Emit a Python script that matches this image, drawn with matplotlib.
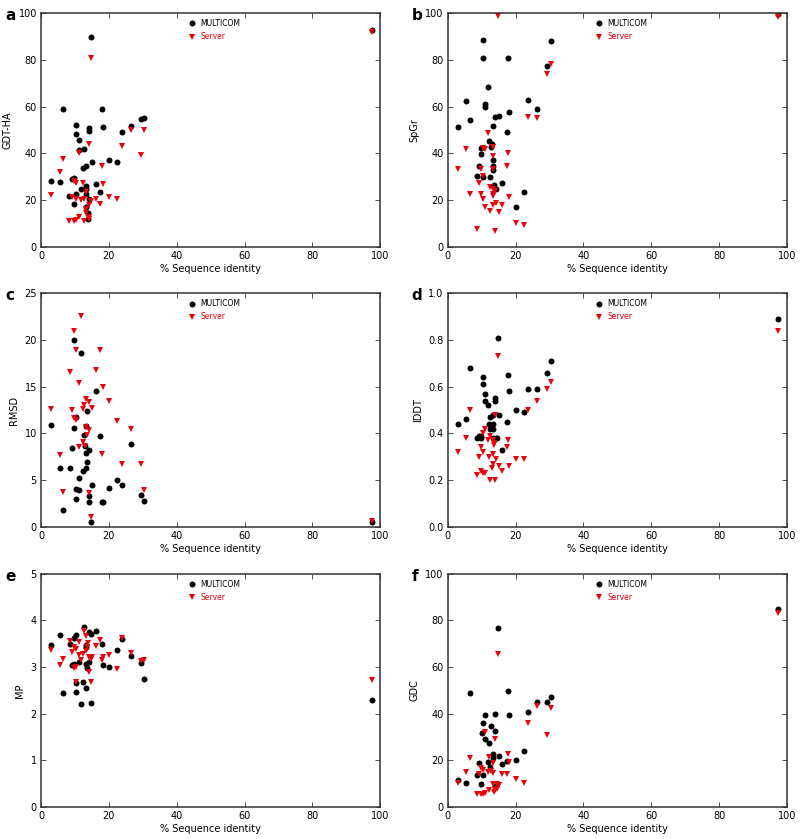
import matplotlib
matplotlib.use('Agg')
import matplotlib.pyplot as plt

# panel a - GDT-HA
a_multi_x = [97.5, 14.7, 6.6, 17.9, 10.3, 14.0, 14.0, 18.2, 10.3, 11.1, 26.5, 23.9, 29.4, 30.4,
             11.1, 12.8, 12.3, 13.3, 15.0, 19.9, 22.3, 3.0, 5.6, 9.0, 9.7, 13.2, 16.1, 17.3,
             11.8, 13.2, 8.3, 10.4, 9.7, 13.2, 14.0, 13.3, 13.7, 13.7]
a_multi_y = [92.9, 89.7, 58.9, 58.9, 52.0, 50.9, 49.6, 51.3, 48.1, 45.7, 51.7, 49.3, 54.7, 55.0,
             41.3, 41.9, 33.9, 34.6, 36.1, 37.1, 36.1, 28.3, 27.7, 29.0, 29.3, 26.0, 27.0, 23.6,
             24.9, 24.7, 21.7, 22.4, 18.3, 22.6, 20.4, 17.1, 14.3, 12.0]
a_serv_x = [97.5, 14.7, 26.5, 30.4, 14.0, 23.9, 11.1, 29.4, 6.6, 17.9, 5.6, 9.7, 10.4, 12.3,
            18.2, 13.2, 3.0, 9.0, 10.4, 11.8, 12.8, 14.7, 16.1, 19.9, 22.3, 17.3, 14.0, 13.3,
            13.3, 14.0, 11.1, 8.3, 9.7, 10.4, 12.8, 14.0]
a_serv_y = [92.0, 81.1, 50.0, 50.0, 43.9, 43.3, 40.0, 39.1, 37.6, 34.6, 32.1, 28.1, 27.1, 27.3,
            26.7, 23.3, 22.1, 21.3, 20.4, 19.9, 20.3, 19.7, 20.3, 21.3, 20.4, 18.1, 18.0, 16.0,
            14.3, 12.6, 12.7, 11.1, 11.1, 11.4, 10.9, 11.9]

# panel b - SpGr
b_multi_x = [97.5, 10.3, 30.4, 10.5, 17.8, 29.4, 11.8, 5.5, 23.8, 11.1, 11.1, 26.4, 18.2, 6.5,
             14.0, 15.0, 2.9, 13.2, 17.4, 12.2, 13.0, 12.8, 9.7, 9.7, 13.3, 9.1, 13.2, 13.3,
             8.5, 10.3, 12.4, 16.1, 13.5, 14.1, 22.4, 20.0]
b_multi_y = [99.7, 88.7, 88.3, 81.0, 81.0, 77.6, 68.4, 62.6, 63.0, 61.3, 60.0, 58.9, 57.9, 54.1,
             55.4, 56.0, 51.3, 51.7, 49.0, 45.1, 44.0, 42.9, 42.4, 39.6, 37.1, 34.7, 34.6, 32.7,
             30.3, 30.0, 30.0, 27.1, 26.3, 24.6, 23.6, 17.1]
b_serv_x = [97.5, 14.7, 30.3, 29.4, 23.8, 26.4, 11.8, 17.8, 5.5, 10.3, 11.1, 13.2, 13.2, 2.9,
            9.7, 13.3, 17.4, 10.3, 9.1, 12.4, 13.2, 13.8, 13.3, 6.5, 9.7, 13.2, 18.0, 10.4,
            14.1, 13.2, 16.1, 11.1, 12.4, 15.0, 20.0, 22.4, 8.5, 14.0]
b_serv_y = [98.6, 99.1, 78.3, 74.0, 55.4, 55.3, 48.9, 40.3, 42.0, 42.3, 42.0, 42.9, 38.9, 33.1,
            33.3, 33.1, 34.4, 30.3, 27.4, 25.7, 24.6, 23.7, 22.6, 22.6, 22.6, 21.6, 21.1, 20.3,
            18.9, 18.0, 18.0, 17.1, 15.4, 14.9, 10.0, 9.3, 7.7, 6.9]

# panel c - RMSD
c_multi_x = [97.5, 9.7, 11.8, 16.1, 13.5, 10.4, 3.0, 9.7, 13.2, 12.8, 17.3, 26.5, 9.0, 13.1,
             14.2, 13.2, 13.5, 5.6, 8.4, 12.3, 13.2, 11.1, 22.3, 23.9, 14.9, 19.9, 10.4, 11.1,
             10.3, 14.0, 29.4, 14.0, 17.9, 18.2, 30.4, 6.6, 14.7]
c_multi_y = [0.46, 20.0, 18.6, 14.6, 12.4, 11.8, 10.9, 10.6, 10.8, 9.8, 9.7, 8.9, 8.4, 8.6,
             8.25, 7.9, 6.9, 6.3, 6.3, 6.0, 6.25, 5.25, 5.0, 4.5, 4.5, 4.1, 4.0, 3.9,
             3.0, 3.3, 3.4, 2.7, 2.6, 2.7, 2.75, 1.8, 0.5]
c_serv_x = [97.5, 11.8, 9.7, 10.4, 17.3, 8.4, 16.1, 11.1, 18.2, 13.2, 14.0, 19.9, 12.8, 12.3,
            14.9, 3.0, 9.0, 9.7, 10.4, 22.3, 26.5, 13.2, 14.2, 13.5, 12.5, 13.0, 11.1, 5.6,
            17.9, 23.9, 29.4, 6.6, 14.0, 30.4, 14.7]
c_serv_y = [0.64, 22.6, 21.0, 18.9, 18.9, 16.6, 16.8, 15.4, 15.0, 13.7, 13.4, 13.5, 13.0, 12.6,
            12.75, 12.6, 12.5, 11.6, 11.4, 11.3, 10.5, 10.7, 10.4, 9.8, 9.1, 8.7, 8.5, 7.7,
            7.8, 6.7, 6.7, 3.7, 3.6, 3.9, 1.0]

# panel d - lDDT
d_multi_x = [97.5, 14.7, 6.5, 30.4, 29.4, 10.3, 17.8, 10.4, 23.8, 26.4, 18.2, 11.1, 14.0, 14.0,
             11.1, 11.8, 20.0, 22.4, 15.0, 13.3, 12.5, 17.4, 2.9, 5.5, 12.3, 13.3, 12.5, 13.3,
             9.1, 9.7, 8.5, 9.7, 13.2, 14.1, 14.5, 16.1]
d_multi_y = [0.89, 0.81, 0.68, 0.71, 0.66, 0.64, 0.65, 0.61, 0.59, 0.59, 0.58, 0.57, 0.55, 0.54,
             0.54, 0.52, 0.50, 0.49, 0.48, 0.48, 0.47, 0.45, 0.44, 0.46, 0.44, 0.44, 0.42, 0.42,
             0.39, 0.39, 0.38, 0.38, 0.38, 0.38, 0.38, 0.33]
d_serv_x = [97.5, 14.7, 30.4, 29.4, 26.4, 23.8, 6.5, 14.0, 11.1, 10.3, 12.5, 5.5, 11.8, 17.8,
            13.2, 13.5, 13.5, 9.7, 17.4, 2.9, 10.3, 13.2, 12.3, 9.1, 20.0, 22.4, 14.1, 13.2,
            18.2, 15.0, 12.9, 16.1, 9.7, 10.4, 11.1, 8.5, 12.5, 14.0]
d_serv_y = [0.84, 0.73, 0.62, 0.59, 0.54, 0.50, 0.50, 0.48, 0.42, 0.40, 0.39, 0.38, 0.37, 0.37,
            0.37, 0.36, 0.35, 0.34, 0.34, 0.32, 0.32, 0.31, 0.30, 0.30, 0.29, 0.29, 0.29, 0.27,
            0.26, 0.26, 0.25, 0.24, 0.24, 0.23, 0.23, 0.22, 0.20, 0.20]

# panel e - MP
e_multi_x = [97.5, 3.0, 5.6, 6.6, 8.4, 9.0, 9.7, 10.4, 9.7, 10.4, 10.4, 11.1, 11.8, 12.3,
             12.8, 13.2, 13.2, 13.5, 13.2, 14.0, 14.7, 14.2, 14.7, 16.1, 17.9, 18.2, 19.9,
             22.3, 23.9, 26.5, 29.4, 30.4, 13.2]
e_multi_y = [2.29, 3.48, 3.68, 2.45, 3.50, 3.04, 3.63, 3.69, 3.06, 2.66, 2.46, 3.11, 2.21, 2.68,
             3.85, 3.48, 3.07, 2.99, 2.55, 3.76, 3.70, 3.10, 2.23, 3.78, 3.50, 3.05, 3.00,
             3.37, 3.61, 3.24, 3.09, 2.75, 3.44]
e_serv_x = [97.5, 3.0, 5.6, 6.6, 8.4, 9.0, 9.7, 10.4, 9.7, 10.4, 10.4, 11.1, 11.1, 11.8,
            12.5, 12.7, 13.2, 13.5, 13.2, 13.7, 14.0, 14.0, 14.7, 14.9, 14.7, 16.1, 17.3,
            17.9, 18.2, 19.9, 22.3, 23.9, 26.5, 29.4, 30.4]
e_serv_y = [2.73, 3.36, 3.05, 3.17, 3.56, 3.32, 3.43, 3.39, 2.97, 3.00, 2.68, 3.54, 3.25, 3.16,
            3.27, 3.77, 3.66, 3.44, 3.34, 3.51, 3.22, 2.89, 3.18, 3.21, 2.68, 3.46, 3.59,
            3.16, 3.21, 3.25, 2.96, 3.62, 3.30, 3.14, 3.16]

# panel f - GDC
f_multi_x = [97.5, 14.7, 6.5, 17.8, 30.4, 26.4, 29.4, 23.8, 11.1, 14.0, 18.2, 10.3, 12.8, 14.0,
             10.1, 11.1, 12.2, 22.4, 13.2, 15.0, 13.2, 11.8, 9.1, 20.0, 17.4, 16.1, 12.4,
             8.5, 10.4, 2.9, 5.5, 9.7, 14.0]
f_multi_y = [85.0, 76.7, 49.1, 49.7, 47.3, 45.1, 45.0, 40.9, 39.6, 40.1, 39.6, 36.0, 34.7, 32.6,
             31.9, 29.0, 27.3, 24.1, 22.6, 22.0, 21.1, 19.3, 18.7, 20.0, 19.7, 18.3, 17.1,
             13.6, 13.6, 11.7, 10.3, 9.9, 9.1]
f_serv_x = [97.5, 14.7, 30.4, 26.4, 23.8, 29.4, 11.1, 14.0, 6.5, 17.8, 12.2, 18.2, 13.2, 5.5,
            9.7, 10.4, 11.8, 12.8, 13.2, 16.1, 17.4, 9.1, 2.9, 20.0, 22.4, 13.3, 14.5, 15.0,
            12.3, 13.5, 14.0, 8.5, 9.7, 10.4, 11.1, 14.5]
f_serv_y = [83.1, 65.7, 42.4, 43.3, 35.9, 31.0, 32.1, 29.0, 21.1, 22.9, 21.4, 19.4, 18.7, 14.9,
            16.6, 16.0, 15.1, 15.3, 14.6, 14.0, 14.3, 14.0, 10.3, 12.0, 10.4, 9.9, 10.0, 9.6,
            7.1, 6.4, 7.1, 5.7, 5.6, 5.6, 6.0, 7.9]

panels = [
    ('a', 'GDT-HA', 100, [0, 20, 40, 60, 80, 100], None, a_multi_x, a_multi_y, a_serv_x, a_serv_y),
    ('b', 'SpGr', 100, [0, 20, 40, 60, 80, 100], None, b_multi_x, b_multi_y, b_serv_x, b_serv_y),
    ('c', 'RMSD', 25, [0, 5, 10, 15, 20, 25], None, c_multi_x, c_multi_y, c_serv_x, c_serv_y),
    ('d', 'lDDT', 1.0, [0.0, 0.2, 0.4, 0.6, 0.8, 1.0], '%.1f', d_multi_x, d_multi_y, d_serv_x, d_serv_y),
    ('e', 'MP', 5, [0, 1, 2, 3, 4, 5], None, e_multi_x, e_multi_y, e_serv_x, e_serv_y),
    ('f', 'GDC', 100, [0, 20, 40, 60, 80, 100], None, f_multi_x, f_multi_y, f_serv_x, f_serv_y),
]

fig = plt.figure(figsize=(8, 8.39), dpi=100)

lefts = [0.0513, 0.5597]
bottoms = [0.706, 0.3722, 0.0381]
w = 0.424
h = 0.278

for i, (letter, ylab, ymax, yt, fmt, mx, my, sx, sy) in enumerate(panels):
    col = i % 2
    row = i // 2
    ax = fig.add_axes([lefts[col], bottoms[row], w, h])
    ax.plot(mx, my, 'o', color='black', markersize=4.3, markeredgewidth=0, label='MULTICOM')
    ax.plot(sx, sy, 'v', color='#e8000b', markersize=4.3, markeredgewidth=0, label='Server')
    ax.set_xlim(0, 100)
    ax.set_ylim(0, ymax)
    ax.set_xticks([0, 20, 40, 60, 80, 100])
    ax.set_yticks(yt)
    if fmt:
        ax.set_yticklabels([fmt % v for v in yt])
    ax.tick_params(direction='in', length=3.5, width=0.6, top=True, right=True,
                   labelsize=7, pad=3, colors='#333333', labelcolor='black')
    for s in ax.spines.values():
        s.set_linewidth(1.1)
        s.set_color('#333333')
    ax.set_xlabel('% Sequence identity', fontsize=7, labelpad=2)
    ax.set_ylabel(ylab, fontsize=7, labelpad=4)
    leg = ax.legend(loc='upper center', bbox_to_anchor=(0.51, 0.995), frameon=False, numpoints=1,
                    fontsize=5.5, handletextpad=0.5, labelspacing=0.55, handlelength=1.2,
                    borderaxespad=0.2)
    leg.get_texts()[1].set_color('#e8000b')
    x0 = lefts[col] - 0.045
    fig.text(x0, bottoms[row] + h - 0.003, letter, fontsize=11, fontweight='bold', va='center', ha='left')

fig.savefig('out.png', dpi=100)
